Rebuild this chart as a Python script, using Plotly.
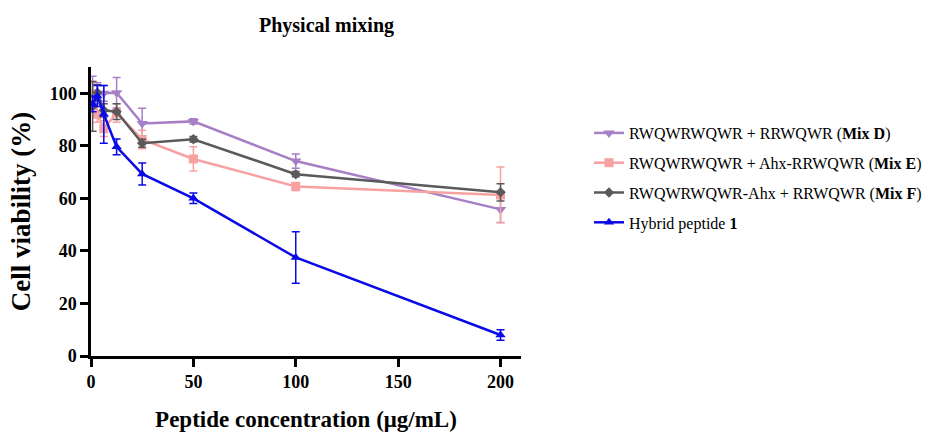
import plotly.graph_objects as go

conc = [0.78, 3.125, 6.25, 12.5, 25, 50, 100, 200]

mix_d = [100.5, 100.0, 100.0, 100.2, 88.5, 89.3, 74.2, 55.8]
mix_d_err = [6.0, 4.0, 3.0, 5.8, 5.8, 1.0, 2.7, 5.0]

mix_e = [99.5, 92.0, 86.5, 92.5, 82.4, 75.0, 64.5, 61.3]
mix_e_err = [5.0, 3.0, 3.0, 3.5, 3.5, 4.6, 1.5, 10.6]

mix_f = [95.0, 100.2, 93.5, 93.0, 81.0, 82.5, 69.2, 62.3]
mix_f_err = [9.5, 3.0, 2.5, 3.0, 1.5, 1.0, 1.0, 3.3]

hybrid = [96.0, 99.0, 92.0, 79.6, 69.3, 60.0, 37.5, 8.0]
hybrid_err = [3.0, 4.0, 11.0, 3.0, 4.2, 2.0, 9.8, 2.0]

names = [
    "RWQWRWQWR + RRWQWR (<b>Mix D</b>)",
    "RWQWRWQWR + Ahx-RRWQWR (<b>Mix E</b>)",
    "RWQWRWQWR-Ahx + RRWQWR (<b>Mix F</b>)",
    "Hybrid peptide <b>1</b>",
]
colors = ["#A77FC6", "#F7A1A1", "#5A5A5A", "#0A0AE6"]
symbols = ["triangle-down", "square", "diamond", "triangle-up"]
sizes = [10, 9, 8, 9]
series = [(mix_d, mix_d_err), (mix_e, mix_e_err), (mix_f, mix_f_err), (hybrid, hybrid_err)]

fig = go.Figure()
for i, ((vals, errs), name, c, s, sz) in enumerate(zip(series, names, colors, symbols, sizes)):
    fig.add_trace(go.Scatter(
        x=conc, y=vals, name=name, mode="lines+markers", legendgroup=f"g{i}",
        line=dict(color=c, width=2.5),
        marker=dict(color=c, symbol=s, size=sz),
        error_y=dict(type="data", array=errs, visible=True, color=c, thickness=1.5, width=4),
    ))

font_family = "Liberation Serif, Times New Roman, serif"

L, R, T, B = 91, 411, 67, 78
W, H = 932, 434
pw, ph = W - L - R, H - T - B

fig.update_layout(
    width=W, height=H,
    margin=dict(l=L, r=R, t=T, b=B, autoexpand=False),
    plot_bgcolor="white", paper_bgcolor="white",
    font=dict(family=font_family, color="black"),
    showlegend=True,
    legend=dict(
        x=(589 - L) / pw, y=(H - B - 116) / ph, xanchor="left", yanchor="top",
        font=dict(family=font_family, size=16, color="black"),
        tracegroupgap=6, itemwidth=30, bgcolor="rgba(0,0,0,0)",
        traceorder="grouped",
    ),
    annotations=[dict(
        text="<b>Physical mixing</b>", x=(326 - L) / pw, y=(H - B - 25) / ph,
        xref="paper", yref="paper", xanchor="center", yanchor="middle",
        font=dict(family=font_family, size=20, color="black"),
        showarrow=False,
    )],
)

fig.update_xaxes(
    range=[0, 210], tickvals=[0, 50, 100, 150, 200], automargin=False,
    showline=True, linewidth=2.5, linecolor="black",
    ticks="outside", ticklen=8, tickwidth=2.5, tickcolor="black",
    showgrid=False, zeroline=False,
    tickfont=dict(family=font_family, size=18, color="black", weight="bold"),
    title=dict(text="<b>Peptide concentration (μg/mL)</b>", standoff=20,
               font=dict(family=font_family, size=23, color="black")),
)
fig.update_yaxes(
    range=[0, 110], tickvals=[0, 20, 40, 60, 80, 100], automargin=False,
    showline=True, linewidth=2.5, linecolor="black",
    ticks="outside", ticklen=8, tickwidth=2.5, tickcolor="black",
    showgrid=False, zeroline=False,
    tickfont=dict(family=font_family, size=18, color="black", weight="bold"),
    title=dict(text="<b>Cell viability (%)</b>", standoff=12,
               font=dict(family=font_family, size=27, color="black")),
)

fig.write_html("out.html", config={"displayModeBar": False},
               post_script="document.body.style.margin='0';")
